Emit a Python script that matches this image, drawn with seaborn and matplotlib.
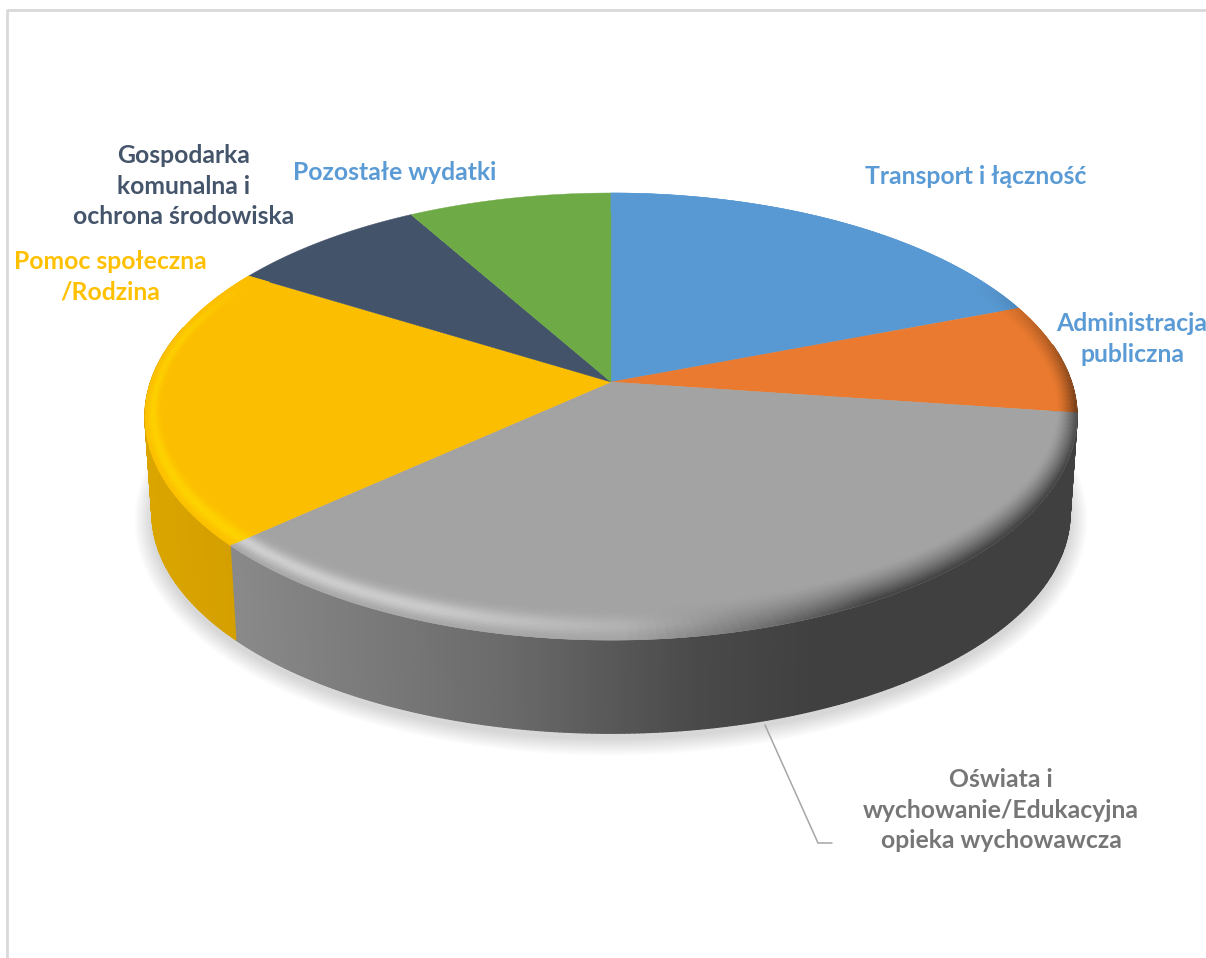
import numpy as np
import seaborn as sns
import matplotlib.pyplot as plt
from matplotlib.collections import PolyCollection
from matplotlib.colors import to_rgb

categories = ['Transport i łączność', 'Administracja\npubliczna',
              'Oświata i\nwychowanie/Edukacyjna\nopieka wychowawcza',
              'Pomoc społeczna\n/Rodzina',
              'Gospodarka\nkomunalna i\nochrona środowiska',
              'Pozostałe wydatki']
shares = [19.2, 8.0, 36.1, 20.5, 8.0, 8.2]
colors = ['#5899d3', '#e97a2f', '#a3a3a3', '#fcbe00', '#43536a', '#6eab46']
label_colors = ['#5b9bd5', '#5b9bd5', '#767676', '#ffc000', '#44546a', '#5b9bd5']
label_xy = [(976, 176), (1132, 339), (1001, 810), (110, 277), (184, 186), (395, 172)]

sns.set_theme(style='white')
plt.rcParams['font.family'] = ['Lato', 'DejaVu Sans']

fig = plt.figure(figsize=(12.06, 9.58), dpi=100)
ax = fig.add_axes([0, 0, 1, 1])
ax.set_xlim(0, 1206)
ax.set_ylim(958, 0)
ax.axis('off')

# chart frame, runs off the crop on the right and at the bottom
ax.plot([7, 7, 1206], [958, 10, 10], color='#d9d9d9', lw=2)

# perspective projection of the unit circle
cx, cy = 611, 382
A, B, p = 460.4, 218.2, 0.1545


def project(theta, r=1.0, scale=1.0, y0=cy):
    u = np.sin(theta) * r
    v = np.cos(theta) * r
    w = 1 + p * v
    return cx + scale * A * u / w, y0 - scale * B * v / w


def rim_radius(theta, s):
    # the rim narrows towards the sides of the disc
    wx = 1 - 0.04 * (1 - s)
    wy = 1 - 0.115 * (1 - s)
    return 1 / np.sqrt((np.sin(theta) / wx) ** 2 + (np.cos(theta) / wy) ** 2)


edges = np.radians(np.concatenate([[0], np.cumsum(shares)]) * 3.6)

# soft shadow under the disc
t = np.linspace(0, 2 * np.pi, 400)
for k in np.linspace(20, 1, 20):
    x, y = project(t, scale=0.985, y0=479)
    ax.fill(cx + (x - cx) * (1 + k / 520), 484 + (y - 479) * (1 + k / 290),
            color='#303030', alpha=0.009, lw=0, zorder=1)


def wall_shade(x):
    return np.interp(x, [146, 240, 500, 700, 820, 1206],
                     [0.87, 0.84, 0.66, 0.45, 0.39, 0.39])


# side wall
quads, cols = [], []
for i, c in enumerate(colors):
    a0, a1 = max(edges[i], np.radians(80)), min(edges[i + 1], np.radians(285))
    if a1 <= a0:
        continue
    th = np.linspace(a0, a1, max(int(np.degrees(a1 - a0) * 2), 2))
    xt, yt = project(th)
    xb, yb = project(th, scale=0.985, y0=479)
    for j in range(len(th) - 1):
        quads.append([(xt[j], yt[j]), (xt[j + 1], yt[j + 1]),
                      (xb[j + 1], yb[j + 1]), (xb[j], yb[j])])
        cols.append(np.array(to_rgb(c)) * wall_shade((xt[j] + xb[j]) / 2))
ax.add_collection(PolyCollection(quads, facecolors=cols, edgecolors=cols, linewidths=1.0, zorder=2))

# top face
for i, c in enumerate(colors):
    th = np.linspace(edges[i], edges[i + 1], 200)
    x, y = project(th)
    ax.fill(np.r_[cx, x], np.r_[cy, y], color=c, lw=0.3, zorder=3)


def light(deg):
    return np.interp(deg, [165, 200, 240, 285, 301], [0, 0.6, 0.72, 0.55, 0])


def dark(deg):
    return np.interp(deg, [60, 97, 115, 150, 178], [0, 0.85, 1, 1, 0])


# rounded rim of the top face
n_bands = 14
quads, cols = [], []
band = np.linspace(0, 1, n_bands + 1)
for i, c in enumerate(colors):
    if np.degrees(edges[i + 1]) < 60 or np.degrees(edges[i]) > 301:
        continue
    base = np.array(to_rgb(c))
    th = np.linspace(edges[i], edges[i + 1], max(int(np.degrees(edges[i + 1] - edges[i])), 2))
    for k in range(n_bands):
        s0, s1 = band[k], band[k + 1]
        mid = (s0 + s1) / 2
        for j in range(len(th) - 1):
            deg = np.degrees(th[j])
            seg = th[j:j + 2]
            x0, y0 = project(seg, rim_radius(seg, s0))
            x1, y1 = project(seg, rim_radius(seg, s1))
            quads.append([(x0[0], y0[0]), (x0[1], y0[1]), (x1[1], y1[1]), (x1[0], y1[0])])
            col = base.copy()
            hi = light(deg) * np.exp(-((mid - 0.6) / 0.27) ** 2)
            tint = np.array([1.0, 0.86, 0.0]) if c == '#fcbe00' else np.array([0.9, 0.9, 0.9])
            col = col * (1 - hi) + tint * hi
            lo = dark(deg) * mid ** 1.4
            col = col * (1 - lo) + base * 0.39 * lo
            cols.append(col)
ax.add_collection(PolyCollection(quads, facecolors=cols, edgecolors=cols, linewidths=0.4, zorder=4))

# leader for the big slice
ax.plot([765, 818, 832], [725, 843, 843], color='#a6a6a6', lw=1.1, zorder=5)

for name, col, (lx, ly) in zip(categories, label_colors, label_xy):
    ax.text(lx, ly, name, color=col, ha='center', va='center', fontsize=17.8,
            fontweight='bold', linespacing=1.4, zorder=6)

fig.savefig('out.png', dpi=100)
